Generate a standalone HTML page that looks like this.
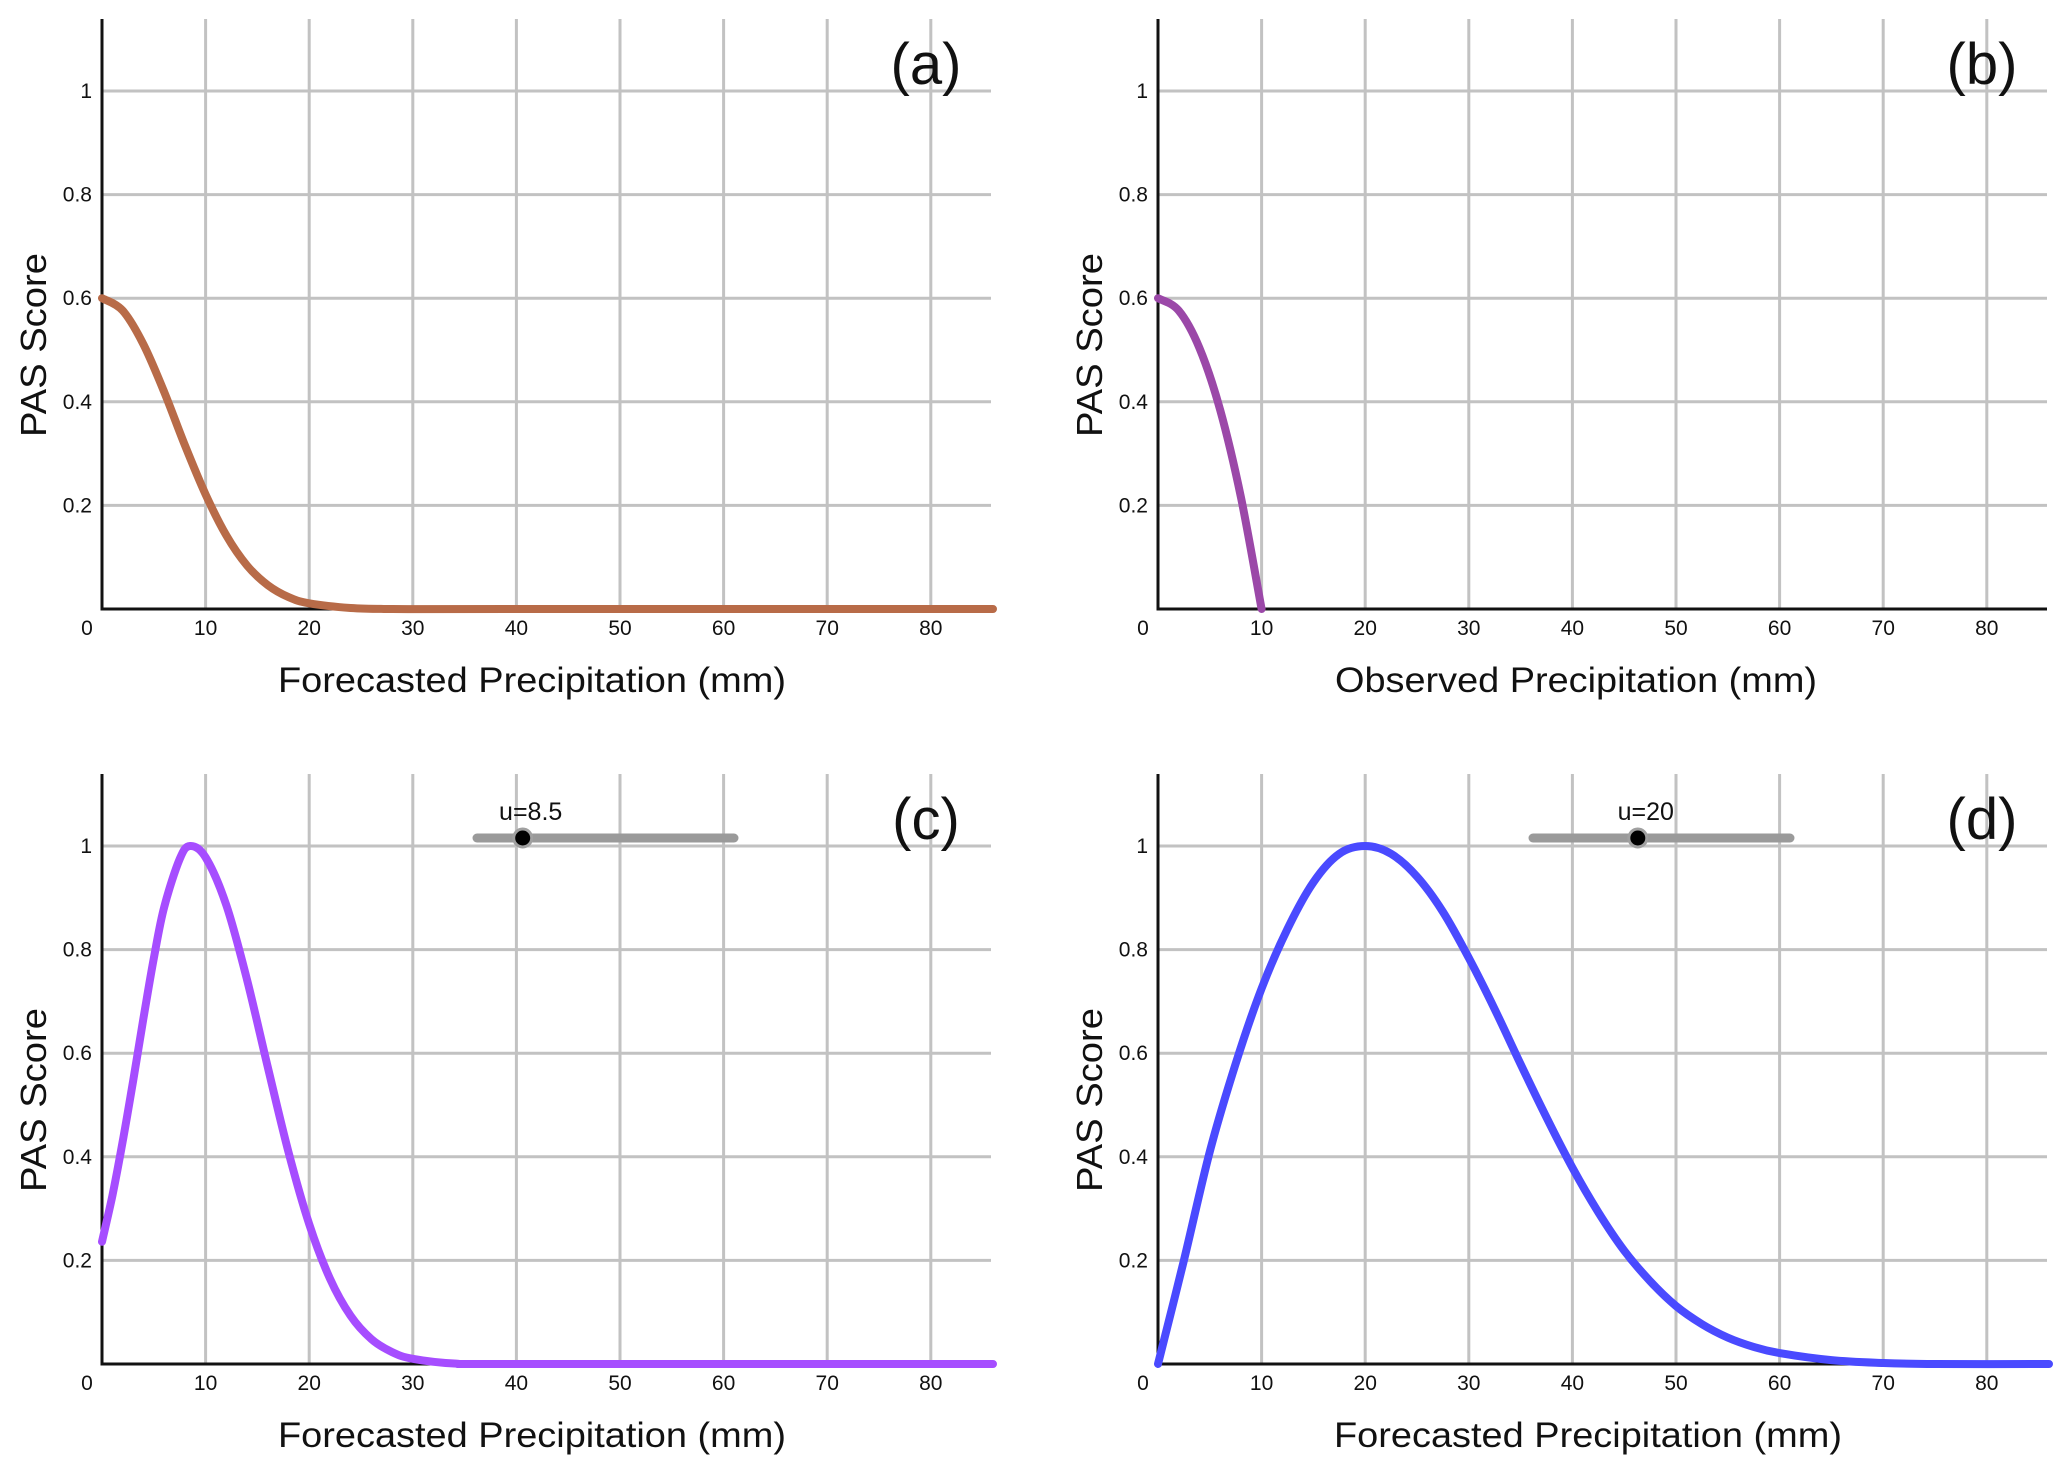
<!DOCTYPE html>
<html><head><meta charset="utf-8"><style>
html,body{margin:0;padding:0;background:#fff;}
svg{display:block;}
text{font-family:"Liberation Sans Narrow","Liberation Sans",sans-serif;fill:#111;}
.tt{font-family:"Liberation Sans",sans-serif;}
</style></head><body>
<svg id="fig" width="2067" height="1475" viewBox="0 0 2067 1475" xmlns="http://www.w3.org/2000/svg"></svg>
<script>
const xTicks = [10,20,30,40,50,60,70,80];
const yTicks = [0.2,0.4,0.6,0.8,1];
const yTickLabels = ["0.2","0.4","0.6","0.8","1"];
const xTickLabels = ["10","20","30","40","50","60","70","80"];
const aX = [0,2,4,6,8,10,12,14,16,18,20,24,28,40,86];
const aY = [0.6,0.576,0.511,0.419,0.316,0.221,0.142,0.084,0.046,0.023,0.011,0.002,0,0,0];
const bX = [0,2,4,6,8,10];
const bY = [0.6,0.576,0.504,0.384,0.216,0];
const cX = [0,1,2,3,4,5,6,7.5,8.5,10,12,14,16,18,20,22,24,26,28,30,34,40,86];
const cY = [0.236,0.325,0.43,0.546,0.667,0.783,0.882,0.975,1,0.978,0.886,0.742,0.573,0.409,0.27,0.165,0.093,0.048,0.023,0.01,0.001,0,0];
const dX = [0,2.5,5,7.5,10,12.5,15,17.5,20,22.5,25,27.5,30,32.5,35,37.5,40,42.5,45,47.5,50,52.5,55,57.5,60,65,70,75,86];
const dY = [0,0.2,0.41,0.58,0.725,0.84,0.93,0.985,1,0.985,0.941,0.873,0.784,0.685,0.579,0.476,0.379,0.293,0.219,0.16,0.112,0.077,0.051,0.033,0.021,0.0075,0.002,0,0];
const panels = [
 {id:'a', dx:0, dy:0, xs:aX, ys:aY, color:'#b86b48', xlabel:'Forecasted Precipitation (mm)', slider:null},
 {id:'b', dx:1056, dy:0, xs:bX, ys:bY, color:'#9b48a8', xlabel:'Observed Precipitation (mm)', slider:null},
 {id:'c', dx:0, dy:755, xs:cX, ys:cY, color:'#a64dff', xlabel:'Forecasted Precipitation (mm)', slider:{label:'u=8.5', val:8.5}},
 {id:'d', dx:1056, dy:755, xs:dX, ys:dY, color:'#4a4aff', xlabel:'Forecasted Precipitation (mm)', slider:{label:'u=20', val:20}}
];
const NS='http://www.w3.org/2000/svg';
const svg=document.getElementById('fig');
function mk(tag, attrs, parent){const e=document.createElementNS(NS,tag);for(const k in attrs)e.setAttribute(k,attrs[k]);(parent||svg).appendChild(e);return e;}
const X0=102, PX=10.36, Y0=609, PY=518, XR=991, YT=19;
const sliderMin=0, sliderMax=50;
panels.forEach(p=>{
  const g=mk('g',{});
  
  
  const sx=v=>p.dx+X0+v*PX, sy=v=>p.dy+Y0-v*PY;
  yTicks.forEach((t,i)=>{
    const l=mk('line',{x1:sx(0),x2:p.dx+XR,y1:sy(t),y2:sy(t),stroke:'#c2c2c2','stroke-width':3},g);
    
    
    const tx=mk('text',{x:sx(0)-10,y:sy(t)+7,'font-size':21,'text-anchor':'end'},g);
    tx.textContent=yTickLabels[i];
    
    
  });
  xTicks.forEach((t,i)=>{
    const l=mk('line',{x1:sx(t),x2:sx(t),y1:p.dy+YT,y2:sy(0),stroke:'#c2c2c2','stroke-width':3},g);
    
    
    const tx=mk('text',{x:sx(t),y:p.dy+635,'font-size':21,'text-anchor':'middle'},g);
    tx.textContent=xTickLabels[i];
    
    
  });
  const z=mk('text',{x:p.dx+87,y:p.dy+635,'font-size':21,'text-anchor':'middle'},g);
  z.textContent='0';
  
  
  const ya=mk('line',{x1:sx(0),x2:sx(0),y1:p.dy+YT,y2:sy(0)+1.5,stroke:'#111','stroke-width':3},g);
  
  
  const xa=mk('line',{x1:sx(0)-1.5,x2:p.dx+XR,y1:sy(0),y2:sy(0),stroke:'#111','stroke-width':3},g);
  
  
  const pts=p.xs.map((x,i)=>[sx(x),sy(p.ys[i])]);
  let d='M'+pts[0][0]+','+pts[0][1];
  for(let i=0;i<pts.length-1;i++){
    const p0=pts[Math.max(0,i-1)],p1=pts[i],p2=pts[i+1],p3=pts[Math.min(pts.length-1,i+2)];
    const c1=[p1[0]+(p2[0]-p0[0])/6,p1[1]+(p2[1]-p0[1])/6];
    const c2=[p2[0]-(p3[0]-p1[0])/6,p2[1]-(p3[1]-p1[1])/6];
    d+=' C'+c1[0].toFixed(1)+','+c1[1].toFixed(1)+' '+c2[0].toFixed(1)+','+c2[1].toFixed(1)+' '+p2[0].toFixed(1)+','+p2[1].toFixed(1);
  }
  const cv=mk('path',{d:d,fill:'none',stroke:p.color,'stroke-width':8,'stroke-linecap':'round','stroke-linejoin':'round'},g);
  
  
  const xl=mk('text',{x:p.dx+(p.id==='b'?520:532),y:p.dy+692,'font-size':35,'text-anchor':'middle',class:'tt',textLength:p.id==='b'?482:508,lengthAdjust:'spacingAndGlyphs'},g);
  xl.textContent=p.xlabel;
  
  
  const yl=mk('text',{x:0,y:0,'font-size':36,'text-anchor':'middle',class:'tt',textLength:184,lengthAdjust:'spacingAndGlyphs',transform:'translate('+(p.dx+46)+','+(p.dy+345)+') rotate(-90)'},g);
  yl.textContent='PAS Score';
  
  
  const pl=mk('text',{x:p.dx+926,y:p.dy+84,'font-size':58,'text-anchor':'middle',class:'tt'},g);
  pl.textContent='('+p.id+')';
  
  
  if(p.slider){
    const sl0=p.dx+477, sl1=p.dx+734, syy=p.dy+83;
    const tr=mk('line',{x1:sl0,x2:sl1,y1:syy,y2:syy,stroke:'#9a9a9a','stroke-width':9,'stroke-linecap':'round'},g);
    
    
    const kx=sl0+(p.slider.val-sliderMin)/(sliderMax-sliderMin)*(sl1-sl0)+2;
    const kn=mk('circle',{cx:kx,cy:syy,r:9,fill:'#000',stroke:'#a0a0a0','stroke-width':3},g);
    
    
    const lb=mk('text',{x:kx+8,y:p.dy+65,'font-size':25,'text-anchor':'middle'},g);
    lb.textContent=p.slider.label;
    
    
  }
});
</script>
</body></html>
